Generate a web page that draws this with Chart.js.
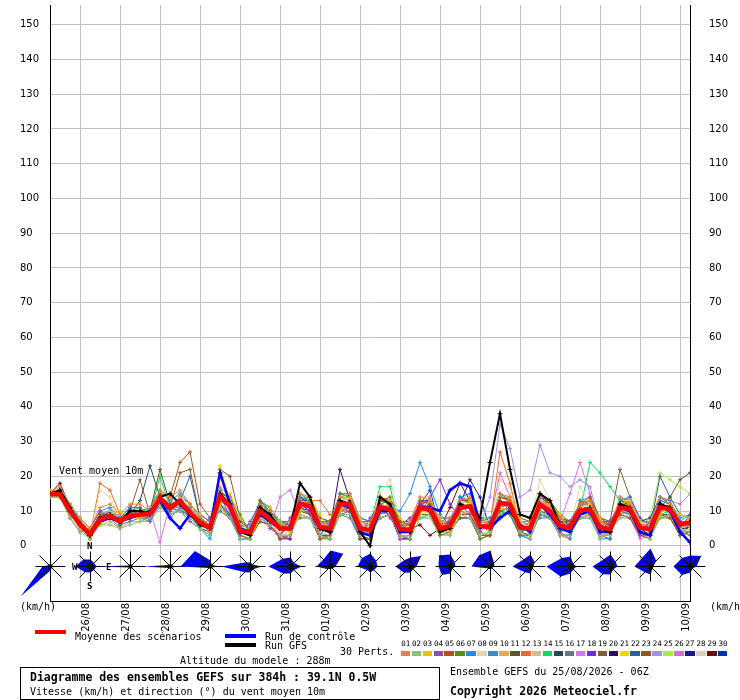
<!DOCTYPE html>
<html>
<head>
<meta charset="utf-8">
<script src="https://cdn.jsdelivr.net/npm/chart.js@4.4.1/dist/chart.umd.min.js"></script>
<style>
  html, body { margin: 0; padding: 0; background: #fff; }
  #wrap { position: relative; width: 740px; height: 700px; overflow: hidden;
          font-family: "DejaVu Sans Mono", monospace; font-size: 10px; color: #000; }
  #wrap canvas { position: absolute; left: 0; top: 0; }
  .t { position: absolute; white-space: nowrap; line-height: 12px; }
  .b { font-weight: bold; font-size: 11.5px; }
  .bar { position: absolute; width: 31px; height: 4px; }
  .num { position: absolute; font-size: 7.5px; line-height: 8px; width: 11px; text-align: center; }
  .sw { position: absolute; width: 9.5px; height: 5px; }
  .card { position: absolute; font-weight: bold; font-size: 9px; line-height: 10px; }
</style>
</head>
<body>
<div id="wrap">
  <canvas id="gefs" width="740" height="700"></canvas>

  <div class="t" style="left:59px;top:465px;">Vent moyen 10m</div>
  <div class="card" style="left:87px;top:541px;">N</div>
  <div class="card" style="left:72px;top:562px;">W</div>
  <div class="card" style="left:106px;top:562px;">E</div>
  <div class="card" style="left:87px;top:581px;">S</div>
  <div class="t" style="left:20px;top:601px;">(km/h)</div>
  <div class="t" style="left:710px;top:601px;">(km/h)</div>

  <div class="bar" style="left:35px;top:630px;background:#ff0000;"></div>
  <div class="t" style="left:75px;top:631px;">Moyenne des scénarios</div>
  <div class="bar" style="left:225px;top:634px;background:#0000ff;"></div>
  <div class="t" style="left:265px;top:631px;">Run de contrôle</div>
  <div class="bar" style="left:225px;top:643px;background:#000;"></div>
  <div class="t" style="left:265px;top:640px;">Run GFS</div>
  <div class="t" style="left:340px;top:646px;">30 Perts.</div>
  <div id="perts"></div>
  <div class="t" style="left:180px;top:655px;">Altitude du modele : 288m</div>

  <div style="position:absolute;left:20px;top:667px;width:418px;height:31px;border:1px solid #000;"></div>
  <div class="t b" style="left:30px;top:671px;">Diagramme des ensembles GEFS sur 384h : 39.1N 0.5W</div>
  <div class="t" style="left:30px;top:686px;">Vitesse (km/h) et direction (°) du vent moyen 10m</div>
  <div class="t" style="left:450px;top:666px;">Ensemble GEFS du 25/08/2026 - 06Z</div>
  <div class="t b" style="left:450px;top:685px;">Copyright 2026 Meteociel.fr</div>
</div>

<script>
// GEFS 384h ensemble - wind speed at 10m, 39.1N 0.5W
const hours = [0,6,12,18,24,30,36,42,48,54,60,66,72,78,84,90,96,102,108,114,120,
  126,132,138,144,150,156,162,168,174,180,186,192,198,204,210,216,222,228,234,240,
  246,252,258,264,270,276,282,288,294,300,306,312,318,324,330,336,342,348,354,360,
  366,372,378,384];
const tickHours = [18,42,66,90,114,138,162,186,210,234,258,282,306,330,354,378];
const dayLabels = ['26/08','27/08','28/08','29/08','30/08','31/08','01/09','02/09',
  '03/09','04/09','05/09','06/09','07/09','08/09','09/09','10/09'];
const yTicks = [0,10,20,30,40,50,60,70,80,90,100,110,120,130,140,150];

const meanWind = [14.9,14.8,10.0,6.2,3.3,7.6,8.6,7.1,8.6,8.9,9.2,13.6,10.9,12.9,9.5,6.7,5.2,14.3,11.4,4.3,3.8,
  10.0,7.6,5.0,5.0,12.1,11.4,5.4,5.0,12.1,11.9,5.0,4.5,11.1,10.5,4.8,4.5,10.9,10.5,5.0,5.7,10.9,11.4,5.7,5.4,
  12.4,11.9,5.2,5.0,11.9,10.0,5.7,5.2,10.2,10.5,5.2,4.8,10.9,10.7,5.2,4.8,11.1,10.5,6.2,6.6];
const gfsRun = [15, 16,11,6,3, 8,9,7,10, 10,9,14,15, 12,9,6,5, 15,12,4,3, 11,9,5,5, 18,14,5,4,
  13,12,4,0, 14,12,5,4, 11,10,4,5, 12,11,8,24, 38,22,9,8, 15,13,6,5, 10,11,5,4, 12,11,5,5, 12,11,6,7];
const controlRun = [15, 15,10,6,3, 7,8,7,8, 9,10,13,8, 5,9,7,5, 21,12,5,4, 9,7,5,5, 12,11,5,4,
  12,11,4,3, 10,10,4,4, 11,11,10,16, 18,17,6,5, 8,10,6,4, 12,9,5,4, 9,10,4,4, 11,10,4,3, 12,10,4,1];

const pert01 = [15, 17,12,8,5, 11,12,9,12, 12,10,16,14, 16,12,8,6, 17,14,6,3, 12,10,6,7, 15,14,7,5, 14,15,7,6, 14,12,5,7, 14,13,7,8, 13,14,8,6, 15,14,5,7, 14,11,8,5, 12,13,7,5, 14,12,5,7, 14,12,6,8];
const pert02 = [14, 14,8,4,2, 6,6,5,6, 7,8,11,9, 10,8,5,3, 11,8,2,2, 8,6,3,3, 9,8,3,2, 9,9,3,3, 8,9,3,2, 8,9,4,3, 9,8,3,4, 9,10,4,2, 10,8,3,3, 8,8,2,4, 8,9,4,2, 8,9,5,4];
const pert03 = [16, 14,12,8,4, 6,9,10,8, 8,11,12,15, 12,12,9,5, 12,15,8,3, 8,11,7,4, 10,14,9,4, 10,14,8,3, 9,13,8,4, 9,13,8,4, 10,13,9,4, 11,14,8,3, 11,12,9,4, 9,12,8,3, 10,13,7,3, 9,12,9,8];
const pert04 = [15, 15,8,4,5, 10,8,5,11, 11,7,13,9, 10,7,5,8, 15,8,3,7, 12,5,3,8, 13,9,3,7, 13,9,3,8, 12,8,4,7, 12,9,4,8, 12,9,4,7, 13,10,4,7, 12,8,4,7, 11,9,4,7, 12,9,3,7, 12,9,5,9];
const pert05 = [16, 15,11,6,4, 9,8,8,9, 10,11,15,14, 24,27,12,8, 12,8,3,2, 7,6,2,3, 10,9,2,3, 9,10,2,2, 13,14,7,6, 13,12,6,7, 9,9,3,3, 14,13,8,7, 15,12,8,7, 12,14,8,6, 9,8,3,2, 9,8,3,4];
const pert06 = [14, 14,10,6,2, 8,9,6,9, 9,9,13,11, 12,10,7,6, 15,14,9,4, 13,11,7,7, 15,13,8,7, 15,14,7,7, 13,12,7,6, 9,9,3,4, 8,8,2,3, 10,9,3,3, 15,13,9,7, 12,13,8,7, 9,8,3,3, 8,8,4,6];
const pert07 = [15, 16,11,8,5, 10,11,8,11, 8,7,12,8, 11,8,5,2, 12,9,2,2, 11,10,7,6, 14,13,7,6, 9,9,2,2, 9,11,10,15, 24,17,9,6, 14,15,8,8, 10,9,3,2, 14,13,8,7, 8,8,2,2, 13,14,7,7, 13,12,8,9];
const pert08 = [15, 14,10,6,3, 16,14,8,9, 8,9,12,11, 13,9,6,5, 11,8,3,2, 8,7,3,4, 9,8,4,3, 14,12,7,6, 15,19,8,6, 9,8,3,3, 13,12,8,8, 14,15,7,6, 19,13,6,5, 17,12,5,4, 14,12,7,6, 9,8,4,5];
const pert09 = [15, 16,12,7,4, 7,9,6,7, 8,11,16,13, 15,12,9,7, 16,13,6,6, 13,10,7,6, 9,8,3,2, 15,15,8,7, 12,13,6,6, 8,8,3,3, 14,13,7,6, 10,9,3,2, 9,8,4,2, 13,14,8,7, 10,9,4,3, 14,13,7,9];
const pert10 = [15, 15,9,5,2, 6,7,5,7, 7,7,11,9, 11,9,6,4, 13,12,6,5, 9,7,3,3, 14,14,8,7, 11,10,3,3, 13,12,6,7, 14,14,7,7, 9,10,4,3, 11,10,3,3, 12,12,8,7, 8,9,3,3, 12,13,7,6, 10,11,5,6];
const pert11 = [15, 15,10,7,4, 7,9,6,9, 9,10,22,12, 12,9,7,5, 16,13,5,3, 12,10,7,6, 11,9,3,3, 13,12,6,4, 10,9,3,2, 12,13,7,7, 13,13,8,6, 11,10,3,3, 14,12,7,6, 9,10,3,2, 13,12,6,6, 11,14,19,21];
const pert12 = [15, 15,10,5,3, 18,16,9,8, 10,9,13,11, 13,10,7,5, 14,11,4,4, 10,8,5,5, 12,13,13,9, 10,10,3,3, 13,13,7,6, 9,9,3,4, 12,13,8,6, 27,18,6,5, 10,8,3,2, 12,13,7,6, 9,10,3,3, 13,12,7,7];
const pert13 = [15, 14,9,5,2, 9,10,8,8, 10,11,15,12, 14,12,9,7, 12,10,3,2, 8,7,3,3, 13,12,6,6, 11,11,4,3, 12,11,6,7, 10,10,3,4, 13,12,8,7, 11,13,5,6, 13,10,6,5, 11,12,5,5, 14,13,7,6, 10,11,6,8];
const pert14 = [15, 16,11,6,3, 9,10,8,10, 11,9,20,11, 11,9,5,3, 11,9,3,2, 12,10,7,7, 10,9,3,3, 14,14,7,6, 17,17,5,5, 8,9,3,3, 12,11,6,5, 14,14,7,7, 9,8,4,5, 10,24,21,17, 13,11,5,5, 9,10,4,5];
const pert15 = [15, 14,9,6,4, 9,10,8,9, 13,23,14,11, 10,9,5,4, 15,14,7,5, 12,7,3,6, 14,12,8,7, 10,11,3,3, 13,12,7,7, 10,12,5,5, 14,12,7,8, 10,11,4,3, 14,13,8,6, 12,10,6,5, 11,13,7,8, 14,12,6,7];
const pert16 = [14, 15,9,5,2, 9,8,8,8, 10,10,13,10, 12,11,8,6, 10,8,2,2, 9,9,6,4, 14,13,6,7, 9,8,2,2, 10,12,5,4, 13,12,7,7, 10,12,6,6, 14,13,4,5, 8,8,3,3, 12,12,5,7, 12,10,6,4, 8,9,4,3];
const pert17 = [15, 14,11,6,4, 7,8,7,10, 8,10,1,12, 12,9,6,6, 10,8,2,2, 9,5,14,16, 9,8,4,3, 13,12,7,6, 9,10,2,3, 13,11,6,6, 10,9,3,4, 13,11,5,4, 13,11,7,15, 24,15,6,5, 8,8,2,3, 13,12,5,6];
const pert18 = [15, 16,10,5,3, 8,10,6,9, 10,8,13,11, 11,10,7,4, 15,10,4,5, 8,6,3,2, 12,10,4,5, 15,14,8,7, 11,10,6,8, 11,14,19,12, 8,8,3,3, 12,13,5,4, 14,12,7,7, 9,11,5,6, 13,14,8,6, 11,10,6,7];
const pert19 = [15, 14,10,7,3, 9,9,7,10, 19,9,14,11, 14,10,6,5, 12,9,3,2, 11,10,6,6, 8,8,2,2, 11,10,3,4, 14,13,7,7, 12,11,5,5, 8,8,2,3, 14,13,7,7, 11,10,6,5, 12,12,7,7, 22,14,5,4, 9,9,4,4];
const pert20 = [15, 15,11,7,4, 9,10,8,11, 8,8,12,10, 14,12,9,7, 14,11,4,3, 7,6,2,2, 12,11,5,5, 22,13,5,5, 8,9,2,2, 12,10,5,5, 10,12,5,6, 15,13,7,6, 11,10,5,6, 8,9,3,3, 12,10,5,3, 10,12,5,5];
const pert21 = [15, 15,11,6,4, 7,9,8,9, 10,9,14,10, 13,10,6,5, 23,13,4,3, 11,9,6,6, 10,9,3,2, 13,14,7,6, 12,11,5,5, 9,10,3,4, 14,12,8,7, 10,10,3,3, 13,12,7,6, 9,9,3,4, 13,13,7,6, 10,11,6,7];
const pert22 = [15, 15,10,6,4, 7,10,7,9, 10,9,14,12, 13,20,8,5, 13,11,5,4, 12,10,7,7, 13,13,7,6, 9,9,3,2, 11,12,5,4, 13,13,8,8, 10,9,4,3, 11,12,6,5, 9,8,3,3, 13,12,7,6, 10,12,5,5, 20,14,9,8];
const pert23 = [15, 16,11,6,3, 8,8,7,10, 9,10,13,11, 21,22,8,5, 22,20,8,4, 8,6,3,3, 14,13,7,7, 12,13,5,6, 8,9,2,2, 13,12,7,6, 11,12,6,4, 13,12,4,5, 10,9,5,4, 12,13,7,5, 11,11,5,6, 12,11,6,6];
const pert24 = [15, 14,10,6,3, 8,8,6,9, 9,10,13,10, 13,11,7,5, 14,11,5,4, 10,7,5,5, 13,12,6,5, 10,10,3,3, 12,13,7,7, 10,11,4,4, 11,12,6,14, 35,28,14,16, 29,21,20,17, 19,17,6,5, 11,10,5,5, 12,11,6,7];
const pert25 = [14, 15,9,5,3, 7,9,8,9, 10,9,14,11, 12,10,7,4, 13,11,5,4, 12,11,7,6, 9,8,3,2, 14,13,7,6, 11,11,5,6, 9,8,3,3, 14,13,7,6, 10,10,3,3, 14,13,8,6, 10,11,5,5, 12,10,6,8, 21,19,17,15];
const pert26 = [15, 14,10,7,4, 9,9,8,9, 9,10,14,11, 12,10,7,5, 14,12,4,4, 9,7,3,3, 14,12,6,6, 13,12,6,6, 9,10,3,3, 12,11,5,6, 13,13,8,7, 21,14,5,5, 9,8,3,3, 13,12,7,6, 10,10,3,4, 14,13,12,15];
const pert27 = [15, 15,11,6,3, 8,9,6,10, 9,9,14,12, 12,10,7,5, 14,11,4,3, 13,10,7,6, 11,10,3,3, 14,13,7,6, 12,11,6,5, 11,12,5,7, 12,19,14,5, 9,10,3,3, 13,12,7,7, 9,10,3,3, 14,13,7,6, 9,8,3,4];
const pert28 = [15, 14,10,6,3, 9,8,7,9, 9,10,13,11, 12,10,8,5, 13,9,2,2, 8,8,4,4, 12,11,6,5, 14,15,8,7, 13,14,7,6, 10,11,5,6, 9,9,3,3, 19,17,5,4, 13,12,7,7, 10,12,5,5, 13,12,6,4, 12,11,6,6];
const pert29 = [15, 18,11,6,3, 8,9,7,9, 9,10,14,11, 13,9,7,5, 15,12,6,5, 11,9,5,5, 14,12,6,5, 11,12,4,3, 12,10,5,5, 6,3,5,11, 18,13,6,5, 13,11,4,5, 12,12,7,5, 11,10,6,4, 12,12,5,6, 10,11,6,5];
const pert30 = [15, 15,10,5,3, 8,9,7,8, 9,9,14,11, 13,10,6,5, 22,12,4,4, 10,9,6,5, 12,11,4,5, 11,10,3,3, 13,12,6,6, 12,16,5,5, 11,11,6,5, 13,12,7,6, 10,8,3,3, 12,13,7,6, 10,9,4,3, 11,10,4,1];

// wind direction roses, one per day (value per sector)
const roseHours = [0,24,48,72,96,120,144,168,192,216,240,264,288,312,336,360,384];
const roseN  = [2,7,2,2,6,4,9,16,13,9,12,16,12,10,12,18,11];
const roseNE = [1,5,1,1.5,2,3,5,18,8,15,6,5,6,4,7,8,15];
const roseE  = [1,6,8,8,9,11,11,5,7,6,5,4,3,6,7,3,6];
const roseSE = [1,5,1,1.5,1.5,4,5,3,5,4,3,2,3,4,4,3,3];
const roseS  = [4,6,2,2.5,1.5,6,7,2,6,6,7,3,7,7,8,8,6];
const roseSW = [42,8,1.5,2,2,8,10,4,5,9,12,3,8,14,11,8,12];
const roseW  = [8,15,33,27,30,29,22,14,13,15,12,19,18,24,18,16,17];
const roseNW = [2,10,1.5,2,22,6,11,10,12,9,16,16,10,12,10,12,12];

const pertSeries = [pert01,pert02,pert03,pert04,pert05,pert06,pert07,pert08,pert09,pert10,
  pert11,pert12,pert13,pert14,pert15,pert16,pert17,pert18,pert19,pert20,
  pert21,pert22,pert23,pert24,pert25,pert26,pert27,pert28,pert29,pert30];
const pertColors = ['#e8823a','#86c66a','#f0c000','#8a4fb0','#b5510c','#5a8a10','#1e8cff','#e8d3a8',
  '#3a8fc0','#e8a85a','#6a5020','#f06820','#d0c080','#00e060','#284860','#6a7880','#e070f0','#8020f0',
  '#806030','#300870','#f0d800','#2860a0','#905820','#a090f0','#a0f040','#d070d0','#2010a0','#e0d0b0',
  '#800000','#0030c0'];

const ROSE_LEVEL = -5.7;   // km/h level of the rose strip centre
const STAR = 15, DIAG = 11;

function toPoints(arr) {
  return arr.map((v, i) => ({ x: hours[i], y: v }));
}

// legend swatches for the perturbations
(function() {
  const box = document.getElementById('perts');
  pertColors.forEach((c, i) => {
    const left = 400.7 + i * 10.94;
    const n = document.createElement('div');
    n.className = 'num';
    n.style.left = (left - 0.5) + 'px';
    n.style.top = '640px';
    n.textContent = String(i + 1).padStart(2, '0');
    box.appendChild(n);
    const s = document.createElement('div');
    s.className = 'sw';
    s.style.left = left + 'px';
    s.style.top = '651px';
    s.style.background = c;
    box.appendChild(s);
  });
})();

const windRoses = {
  id: 'windRoses',
  afterDatasetsDraw(chart) {
    const { ctx, scales: { x, y } } = chart;
    const k = Math.SQRT1_2;
    const cy = Math.round(y.getPixelForValue(ROSE_LEVEL)) + 0.5;
    ctx.save();
    roseHours.forEach((h, i) => {
      const cx = Math.round(x.getPixelForValue(h)) + 0.5;
      const pts = [
        [0, -roseN[i]], [roseNE[i] * k, -roseNE[i] * k], [roseE[i], 0], [roseSE[i] * k, roseSE[i] * k],
        [0, roseS[i]], [-roseSW[i] * k, roseSW[i] * k], [-roseW[i], 0], [-roseNW[i] * k, -roseNW[i] * k]
      ];
      ctx.beginPath();
      pts.forEach((p, j) => j ? ctx.lineTo(cx + p[0], cy + p[1]) : ctx.moveTo(cx + p[0], cy + p[1]));
      ctx.closePath();
      ctx.fillStyle = '#0000ff';
      ctx.fill();

      ctx.beginPath();
      ctx.moveTo(cx - STAR, cy); ctx.lineTo(cx + STAR, cy);
      ctx.moveTo(cx, cy - STAR); ctx.lineTo(cx, cy + STAR);
      ctx.moveTo(cx - DIAG, cy - DIAG); ctx.lineTo(cx + DIAG, cy + DIAG);
      ctx.moveTo(cx - DIAG, cy + DIAG); ctx.lineTo(cx + DIAG, cy - DIAG);
      ctx.strokeStyle = '#000';
      ctx.lineWidth = 1;
      ctx.stroke();
      ctx.beginPath();
      ctx.arc(cx, cy, 2.2, 0, Math.PI * 2);
      ctx.fillStyle = '#000';
      ctx.fill();
    });
    ctx.restore();
  }
};

const tickFont = { family: 'DejaVu Sans', size: 10 };
const setTicks = s => { s.ticks = yTicks.map(v => ({ value: v })); };

const datasets = [
  { data: toPoints(meanWind), borderColor: '#ff0000', borderWidth: 4.5, pointRadius: 0, order: 0 },
  { data: toPoints(gfsRun), borderColor: '#000000', borderWidth: 2, pointStyle: 'cross',
    pointRadius: 2.5, pointBorderColor: '#000000', pointBorderWidth: 1, order: 1 },
  { data: toPoints(controlRun), borderColor: '#0000ff', borderWidth: 2.5, pointStyle: 'cross',
    pointRadius: 2.5, pointBorderColor: '#0000ff', pointBorderWidth: 1, order: 2 }
].concat(pertSeries.map((arr, i) => ({
  data: toPoints(arr), borderColor: pertColors[i], borderWidth: 1, pointStyle: 'cross',
  pointRadius: 2, pointBorderColor: pertColors[i], pointBorderWidth: 1, order: 3 + i
})));

new Chart(document.getElementById('gefs'), {
  type: 'line',
  data: { datasets },
  options: {
    responsive: false,
    animation: false,
    layout: { padding: { left: 20, right: 0, top: 0, bottom: 0 } },
    elements: { line: { tension: 0, fill: false } },
    scales: {
      x: {
        type: 'linear', min: 0, max: 384,
        afterBuildTicks: s => { s.ticks = tickHours.map(v => ({ value: v })); },
        afterFit: s => { s.height = 99; s.paddingLeft = 0; s.paddingRight = 0; },
        grid: { color: '#c0c0c0', drawTicks: false },
        border: { color: '#000', width: 1 },
        ticks: {
          autoSkip: false, minRotation: 90, maxRotation: 90, padding: 2, labelOffset: 6,
          font: tickFont, color: '#000',
          callback: (v, i) => dayLabels[i]
        }
      },
      y: {
        type: 'linear', position: 'left', min: -15.9, max: 155.7,
        afterBuildTicks: setTicks,
        afterFit: s => { s.width = 30; s.paddingTop = 0; s.paddingBottom = 0; },
        grid: { color: '#c0c0c0', drawTicks: false },
        border: { color: '#000', width: 1 },
        ticks: { crossAlign: 'far', font: tickFont, color: '#000' }
      },
      y2: {
        type: 'linear', position: 'right', min: -15.9, max: 155.7,
        afterBuildTicks: setTicks,
        afterFit: s => { s.width = 50; s.paddingTop = 0; s.paddingBottom = 0; },
        grid: { drawOnChartArea: false, drawTicks: false },
        border: { color: '#000', width: 1 },
        ticks: { crossAlign: 'near', padding: 19, font: tickFont, color: '#000' }
      }
    },
    plugins: { legend: { display: false }, tooltip: { enabled: false } }
  },
  plugins: [windRoses]
});
</script>
</body>
</html>
